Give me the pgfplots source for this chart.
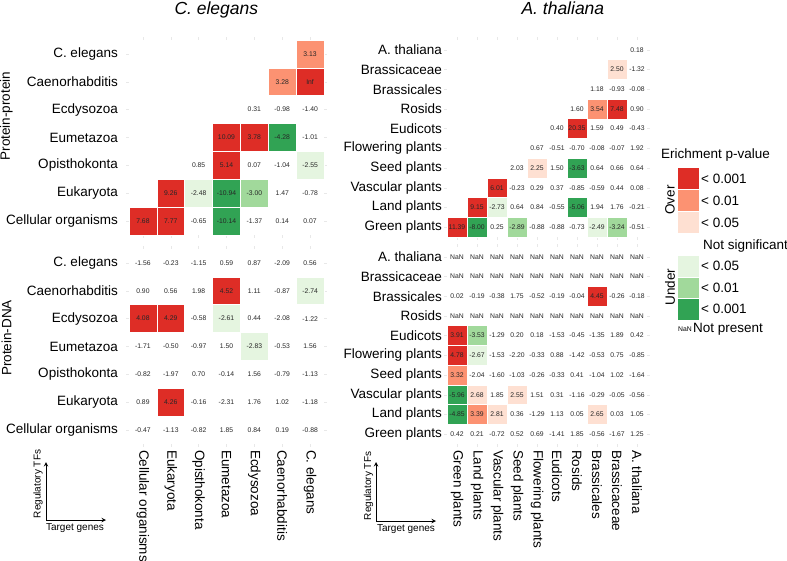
\documentclass[border=0pt]{standalone}
\usepackage{fontspec}
\setmainfont{Liberation Sans}
\usepackage{pgfplots}
\pgfplotsset{compat=1.18}
\definecolor{r3}{HTML}{DE2D26}
\definecolor{r2}{HTML}{FC9272}
\definecolor{r1}{HTML}{FEE0D2}
\definecolor{g1}{HTML}{E5F5E0}
\definecolor{g2}{HTML}{A1D99B}
\definecolor{g3}{HTML}{31A354}
\newcommand{\lf}{\fontsize{13.5bp}{16bp}\selectfont}
\newcommand{\vf}{\fontsize{6.8bp}{8bp}\selectfont}
\pgfplotsset{
  hm/.style={scale only axis, axis line style={draw=none}, tick align=outside,
    major tick length=3bp, tick style={draw=gray!18, line width=0.5bp},
    ticklabel style={font=\lf}, clip=false, xmin=-0.5, ymin=-0.5},
  hmce/.style={hm, width=195bp, height=195bp, xmax=6.5, ymax=6.5,
    xtick={0,...,6}, ytick={0,...,6},
    yticklabels={Cellular organisms,Eukaryota,Opisthokonta,Eumetazoa,Ecdysozoa,Caenorhabditis,C. elegans},
    yticklabel style={inner xsep=8bp, inner ysep=0pt}},
  hmat/.style={hm, width=200bp, height=197bp, xmax=9.5, ymax=9.5,
    xtick={0,...,9}, ytick={0,...,9},
    yticklabels={Green plants,Land plants,Vascular plants,Seed plants,Flowering plants,Eudicots,Rosids,Brassicales,Brassicaceae,A. thaliana},
    yticklabel style={inner xsep=2bp, inner ysep=0pt}},
  xrot/.style={xticklabel style={rotate=-90, anchor=west, inner xsep=3bp, inner ysep=0pt}},
  cellce/.style={only marks, mark=square*, mark size=13.93bp, mark options={draw=white, line width=0.6bp}},
  cellat/.style={only marks, mark=square*, mark size=9.9bp, mark options={draw=white, line width=0.6bp}},
  lbl/.style={draw=none, mark=none, point meta=explicit symbolic,
    nodes near coords={\pgfplotspointmeta}, nodes near coords align={center},
    every node near coord/.append style={font=\vf, inner sep=0pt, text=black!85}},
}
\newcommand{\lrow}[3]{\addplot[lbl] table[row sep=\\, x expr=\coordindex+#1, y expr=#2, meta=l] {l\\ #3};}
\begin{document}
\begin{tikzpicture}
\path[use as bounding box] (0,0) rectangle (787bp,-561bp);

% ---------------- C. elegans, protein-protein
\begin{axis}[hmce, at={(129bp,-235bp)}, anchor=south west, xticklabels={}]
\addplot[cellce, color=r3] coordinates {(6,5) (3,3) (4,3) (3,2) (1,1) (0,0) (1,0)};
\addplot[cellce, color=r2] coordinates {(6,6) (5,5)};
\addplot[cellce, color=g3] coordinates {(5,3) (3,1) (3,0)};
\addplot[cellce, color=g2] coordinates {(4,1)};
\addplot[cellce, color=g1] coordinates {(6,2) (2,1)};
\lrow{6}{6}{3.13\\}
\lrow{5}{5}{3.28\\ Inf\\}
\lrow{4}{4}{0.31\\ -0.98\\ -1.40\\}
\lrow{3}{3}{10.09\\ 3.78\\ -4.28\\ -1.01\\}
\lrow{2}{2}{0.85\\ 5.14\\ 0.07\\ -1.04\\ -2.55\\}
\lrow{1}{1}{9.26\\ -2.48\\ -10.94\\ -3.00\\ 1.47\\ -0.78\\}
\lrow{0}{0}{7.68\\ 7.77\\ -0.65\\ -10.14\\ -1.37\\ 0.14\\ 0.07\\}
\end{axis}

% ---------------- C. elegans, protein-DNA
\begin{axis}[hmce, xrot, at={(129bp,-444bp)}, anchor=south west,
  xticklabels={Cellular organisms,Eukaryota,Opisthokonta,Eumetazoa,Ecdysozoa,Caenorhabditis,C. elegans}]
\addplot[cellce, color=r3] coordinates {(3,5) (0,4) (1,4) (1,1)};
\addplot[cellce, color=g1] coordinates {(6,5) (3,4) (4,3)};
\lrow{0}{6}{-1.56\\ -0.23\\ -1.15\\ 0.59\\ 0.87\\ -2.09\\ 0.56\\}
\lrow{0}{5}{0.90\\ 0.56\\ 1.98\\ 4.52\\ 1.11\\ -0.87\\ -2.74\\}
\lrow{0}{4}{4.08\\ 4.29\\ -0.58\\ -2.61\\ 0.44\\ -2.08\\ -1.22\\}
\lrow{0}{3}{-1.71\\ -0.50\\ -0.97\\ 1.50\\ -2.83\\ -0.53\\ 1.56\\}
\lrow{0}{2}{-0.82\\ -1.97\\ 0.70\\ -0.14\\ 1.56\\ -0.79\\ -1.13\\}
\lrow{0}{1}{0.89\\ 4.26\\ -0.16\\ -2.31\\ 1.76\\ 1.02\\ -1.18\\}
\lrow{0}{0}{-0.47\\ -1.13\\ -0.82\\ 1.85\\ 0.84\\ 0.19\\ -0.88\\}
\end{axis}

% ---------------- A. thaliana, protein-protein
\begin{axis}[hmat, at={(447bp,-237bp)}, anchor=south west, xticklabels={}]
\addplot[cellat, color=r3] coordinates {(8,6) (6,5) (2,2) (1,1) (0,0)};
\addplot[cellat, color=r2] coordinates {(7,6)};
\addplot[cellat, color=r1] coordinates {(8,8) (4,3)};
\addplot[cellat, color=g3] coordinates {(6,3) (6,1) (1,0)};
\addplot[cellat, color=g2] coordinates {(3,0) (8,0)};
\addplot[cellat, color=g1] coordinates {(2,1) (7,0)};
\lrow{9}{9}{0.18\\}
\lrow{8}{8}{2.50\\ -1.32\\}
\lrow{7}{7}{1.18\\ -0.93\\ -0.08\\}
\lrow{6}{6}{1.60\\ 3.54\\ 7.48\\ 0.90\\}
\lrow{5}{5}{0.40\\ 20.35\\ 1.59\\ 0.49\\ -0.43\\}
\lrow{4}{4}{0.67\\ -0.51\\ -0.70\\ -0.08\\ -0.07\\ 1.92\\}
\lrow{3}{3}{2.03\\ 2.25\\ 1.50\\ -3.63\\ 0.64\\ 0.66\\ 0.64\\}
\lrow{2}{2}{6.01\\ -0.23\\ 0.29\\ 0.37\\ -0.85\\ -0.59\\ 0.44\\ 0.08\\}
\lrow{1}{1}{9.15\\ -2.73\\ 0.64\\ 0.84\\ -0.55\\ -5.06\\ 1.94\\ 1.76\\ -0.21\\}
\lrow{0}{0}{11.39\\ -8.00\\ 0.25\\ -2.89\\ -0.88\\ -0.88\\ -0.73\\ -2.49\\ -3.24\\ -0.51\\}
\end{axis}

% ---------------- A. thaliana, protein-DNA
\begin{axis}[hmat, xrot, at={(447bp,-444bp)}, anchor=south west,
  xticklabels={Green plants,Land plants,Vascular plants,Seed plants,Flowering plants,Eudicots,Rosids,Brassicales,Brassicaceae,A. thaliana}]
\addplot[cellat, color=r3] coordinates {(7,7) (0,5) (0,4)};
\addplot[cellat, color=r2] coordinates {(0,3) (1,1)};
\addplot[cellat, color=r1] coordinates {(1,2) (3,2) (2,1) (7,1)};
\addplot[cellat, color=g3] coordinates {(0,2) (0,1)};
\addplot[cellat, color=g2] coordinates {(1,5)};
\addplot[cellat, color=g1] coordinates {(1,4)};
\lrow{0}{9}{NaN\\ NaN\\ NaN\\ NaN\\ NaN\\ NaN\\ NaN\\ NaN\\ NaN\\ NaN\\}
\lrow{0}{8}{NaN\\ NaN\\ NaN\\ NaN\\ NaN\\ NaN\\ NaN\\ NaN\\ NaN\\ NaN\\}
\lrow{0}{7}{0.02\\ -0.19\\ -0.38\\ 1.75\\ -0.52\\ -0.19\\ -0.04\\ 4.45\\ -0.26\\ -0.18\\}
\lrow{0}{6}{NaN\\ NaN\\ NaN\\ NaN\\ NaN\\ NaN\\ NaN\\ NaN\\ NaN\\ NaN\\}
\lrow{0}{5}{3.91\\ -3.53\\ -1.29\\ 0.20\\ 0.18\\ -1.53\\ -0.45\\ -1.35\\ 1.89\\ 0.42\\}
\lrow{0}{4}{4.78\\ -2.67\\ -1.53\\ -2.20\\ -0.33\\ 0.88\\ -1.42\\ -0.53\\ 0.75\\ -0.85\\}
\lrow{0}{3}{3.32\\ -2.04\\ -1.60\\ -1.03\\ -0.26\\ -0.33\\ 0.41\\ -1.04\\ 1.02\\ -1.64\\}
\lrow{0}{2}{-5.96\\ 2.68\\ 1.85\\ 2.55\\ 1.51\\ 0.31\\ -1.16\\ -0.29\\ -0.05\\ -0.56\\}
\lrow{0}{1}{-4.85\\ 3.39\\ 2.81\\ 0.36\\ -1.29\\ 1.13\\ 0.05\\ 2.65\\ 0.03\\ 1.05\\}
\lrow{0}{0}{0.42\\ 0.21\\ -0.72\\ 0.52\\ 0.69\\ -1.41\\ 1.85\\ -0.56\\ -1.67\\ 1.25\\}
\end{axis}

% ---------------- titles and side labels
\node[anchor=base west, font=\fontsize{17.5bp}{20bp}\selectfont\itshape] at (171bp,-14bp) {C. elegans};
\node[anchor=base west, font=\fontsize{17.5bp}{20bp}\selectfont\itshape] at (518bp,-14bp) {A. thaliana};
\node[rotate=90, font=\lf] at (6.5bp,-116bp) {Protein-protein};
\node[rotate=90, font=\lf] at (6.5bp,-338bp) {Protein-DNA};

% ---------------- direction keys
\draw[line width=1bp, -stealth] (46bp,-520bp) -- (46bp,-462bp);
\draw[line width=1bp, -stealth] (46bp,-520bp) -- (106bp,-520bp);
\node[rotate=90, font=\fontsize{10bp}{12bp}\selectfont] at (38bp,-484bp) {Regulatory TFs};
\node[font=\fontsize{10bp}{12bp}\selectfont] at (75bp,-528.5bp) {Target genes};
\draw[line width=1bp, -stealth] (376bp,-521bp) -- (376bp,-462bp);
\draw[line width=1bp, -stealth] (376bp,-521bp) -- (436bp,-521bp);
\node[rotate=90, font=\fontsize{10bp}{12bp}\selectfont] at (368.5bp,-486bp) {Regulatory TFs};
\node[font=\fontsize{10bp}{12bp}\selectfont] at (406bp,-529.5bp) {Target genes};

% ---------------- legend
\node[anchor=west, font=\lf, inner sep=0pt] at (661bp,-155bp) {Erichment p-value};
\begin{scope}[draw=white, line width=0.6bp]
\filldraw[fill=r3] (677bp,-167.5bp) rectangle (699bp,-189.5bp);
\filldraw[fill=r2] (677bp,-189.5bp) rectangle (699bp,-211.5bp);
\filldraw[fill=r1] (677bp,-211.5bp) rectangle (699bp,-233.5bp);
\filldraw[fill=g1] (677bp,-255bp) rectangle (699bp,-277bp);
\filldraw[fill=g2] (677bp,-277bp) rectangle (699bp,-298.5bp);
\filldraw[fill=g3] (677bp,-298.5bp) rectangle (699bp,-320bp);
\end{scope}
\node[anchor=west, font=\lf, inner sep=0pt] at (701bp,-178.5bp) {< 0.001};
\node[anchor=west, font=\lf, inner sep=0pt] at (701bp,-200.5bp) {< 0.01};
\node[anchor=west, font=\lf, inner sep=0pt] at (701bp,-222.5bp) {< 0.05};
\node[anchor=west, font=\lf, inner sep=0pt] at (703bp,-246bp) {Not significant};
\node[anchor=west, font=\lf, inner sep=0pt] at (701bp,-266bp) {< 0.05};
\node[anchor=west, font=\lf, inner sep=0pt] at (701bp,-287.5bp) {< 0.01};
\node[anchor=west, font=\lf, inner sep=0pt] at (701bp,-309bp) {< 0.001};
\node[rotate=90, font=\lf] at (670bp,-200bp) {Over};
\node[rotate=90, font=\lf] at (670bp,-287bp) {Under};
\node[font=\vf] at (685bp,-329bp) {NaN};
\node[anchor=west, font=\lf, inner sep=0pt] at (693bp,-329bp) {Not present};
\end{tikzpicture}
\end{document}
